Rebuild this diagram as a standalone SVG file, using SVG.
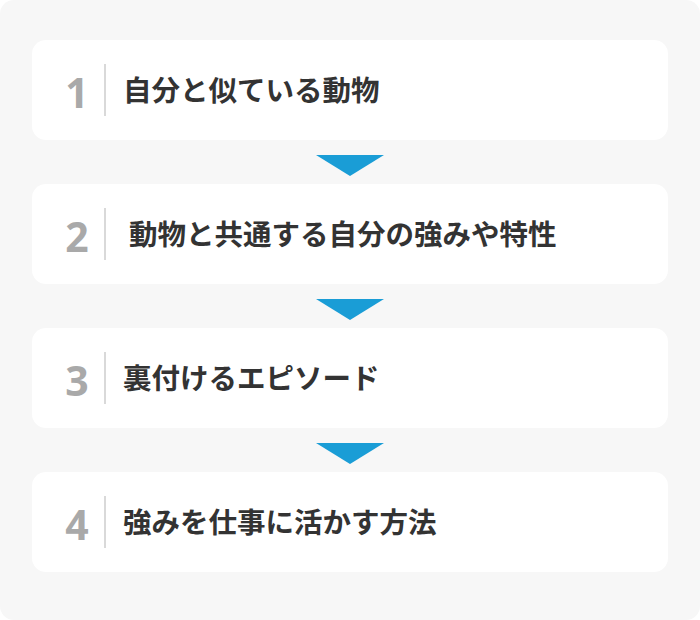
<svg xmlns="http://www.w3.org/2000/svg" width="700" height="620" viewBox="0 0 700 620">
<style>
.card{fill:#ffffff;}
.num{font-family:"Noto Sans","Noto Sans CJK JP",sans-serif;font-weight:700;font-size:41px;fill:#a9a9a9;text-anchor:middle;}
.div{stroke:#cccccc;stroke-width:1.5;}
.lbl{font-family:"Noto Sans CJK JP",sans-serif;font-weight:700;font-size:28.5px;fill:#333333;}
.arr{fill:#1a9dd6;}
</style>
<rect x="0" y="0" width="700" height="620" fill="#ffffff"/>
<rect x="0" y="0" width="700" height="620" rx="14" fill="#f7f7f7"/>
<g id="connectors">
<polygon class="arr" points="316,155 384,155 350,176"/>
<polygon class="arr" points="316,299 384,299 350,320"/>
<polygon class="arr" points="316,443 384,443 350,464"/>
</g>
<g id="step1">
<rect class="card" x="32" y="40" width="636" height="100" rx="14"/>
<text class="num" x="77" y="108">1</text>
<line class="div" x1="105" y1="64" x2="105" y2="116"/>
<text class="lbl" x="123" y="101">自分と似ている動物</text>
</g>
<g id="step2">
<rect class="card" x="32" y="184" width="636" height="100" rx="14"/>
<text class="num" x="77" y="252">2</text>
<line class="div" x1="105" y1="208" x2="105" y2="260"/>
<text class="lbl" x="129" y="245">動物と共通する自分の強みや特性</text>
</g>
<g id="step3">
<rect class="card" x="32" y="328" width="636" height="100" rx="14"/>
<text class="num" x="77" y="396">3</text>
<line class="div" x1="105" y1="352" x2="105" y2="404"/>
<text class="lbl" x="123" y="389">裏付けるエピソード</text>
</g>
<g id="step4">
<rect class="card" x="32" y="472" width="636" height="100" rx="14"/>
<text class="num" x="77" y="540">4</text>
<line class="div" x1="105" y1="496" x2="105" y2="548"/>
<text class="lbl" x="123" y="533">強みを仕事に活かす方法</text>
</g>
</svg>
